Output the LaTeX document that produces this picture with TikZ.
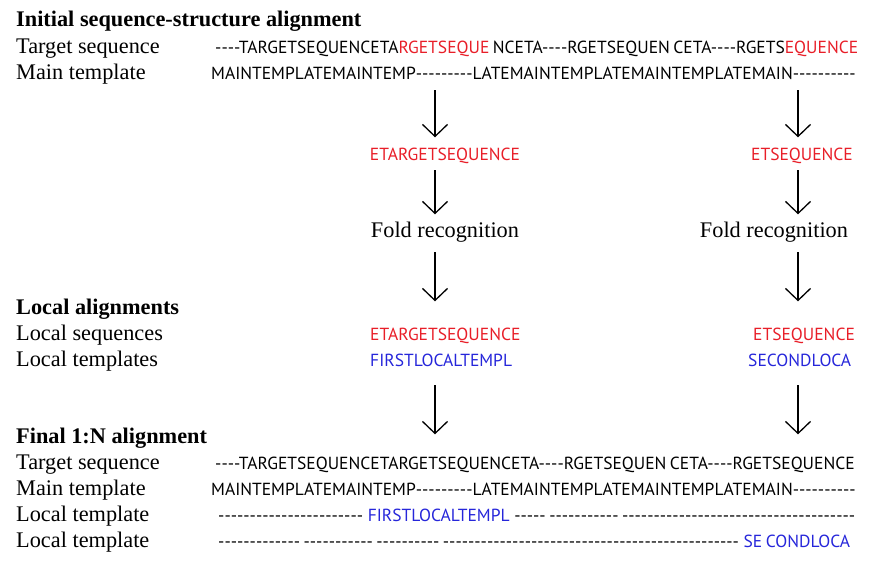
\documentclass[tikz,border=0pt]{standalone}
\usepackage{fontspec}
\setmainfont{Liberation Serif}
\newfontfamily\seqfont{PT Sans}[Ligatures=TeXOff]
\usetikzlibrary{arrows.meta,calc}

\definecolor{seqred}{RGB}{232,30,40}
\definecolor{seqblue}{RGB}{38,38,218}

% a run of gap characters
\newcommand\dashes[1]{\foreach\k in {1,...,#1}{-}}
\newcommand\gapsp{\hspace{0.2em}}

\tikzset{
	lab/.style={anchor=base west, inner sep=0pt, font=\fontsize{22.3}{26}\selectfont},
	head/.style={lab, font=\fontsize{22.3}{26}\selectfont\bfseries},
	seq/.style={anchor=base west, inner sep=0pt, font=\seqfont\fontsize{17.5}{20}\selectfont},
	flow/.style={-{Straight Barb[length=12pt,width=25pt]}, line width=1.3pt}
}

\begin{document}
\begin{tikzpicture}[x=1pt,y=-1pt]
	\useasboundingbox (0,0) rectangle (870,563);
	% initial alignment
	\node[head] (ini) at (16,26) {Initial sequence-structure alignment};
	\node[lab] (iniT) at (16,53) {Target sequence};
	\node[lab] (iniM) at (16,79) {Main template};
	\node[seq] (iniTs) at (215,53) {\dashes{4}TARGETSEQUENCETA{\color{seqred}RGETSEQUE}\gapsp NCETA\dashes{4}RGETSEQUEN\gapsp CETA\dashes{4}RGETS{\color{seqred}EQUENCE}};
	\node[seq] (iniMs) at (211,79) {MAINTEMPLATEMAINTEMP\dashes{9}LATEMAINTEMPLATEMAINTEMPLATEMAIN\dashes{10}};
	% the two columns
	\coordinate (colL) at (435,0);
	\coordinate (colR) at (798,0);
	\node[seq, anchor=base, text=seqred] (cutL) at (445,160) {ETARGETSEQUENCE};
	\node[seq, anchor=base, text=seqred] (cutR) at (802,160) {ETSEQUENCE};
	\node[lab, anchor=base] (foldL) at (445,237) {Fold recognition};
	\node[lab, anchor=base] (foldR) at (774,237) {Fold recognition};
	% local alignments
	\node[head] (loc) at (16,314) {Local alignments};
	\node[lab] (locS) at (16,340) {Local sequences};
	\node[lab] (locT) at (16,366) {Local templates};
	\node[seq, text=seqred] (locSL) at (370,340) {ETARGETSEQUENCE};
	\node[seq, text=seqred] (locSR) at (753,340) {ETSEQUENCE};
	\node[seq, text=seqblue] (locTL) at (370,366) {FIRSTLOCALTEMPL};
	\node[seq, text=seqblue] (locTR) at (748,366) {SECONDLOCA};
	% final alignment
	\node[head] (fin) at (16,443) {Final 1:N alignment};
	\node[lab] (finT) at (16,469) {Target sequence};
	\node[lab] (finM) at (16,495) {Main template};
	\node[lab] (finA) at (16,521) {Local template};
	\node[lab] (finB) at (16,547) {Local template};
	\node[seq] (finTs) at (215,469) {\dashes{4}TARGETSEQUENCETARGETSEQUENCETA\dashes{4}RGETSEQUEN\gapsp CETA\dashes{4}RGETSEQUENCE};
	\node[seq] (finMs) at (211,495) {MAINTEMPLATEMAINTEMP\dashes{9}LATEMAINTEMPLATEMAINTEMPLATEMAIN\dashes{10}};
	\node[seq] (finAs) at (218,521) {\dashes{23} {\color{seqblue}FIRSTLOCALTEMPL} \dashes{5}\gapsp\dashes{11}\gapsp\dashes{37}};
	\node[seq] (finBs) at (218,547) {\dashes{13}\gapsp\dashes{11}\gapsp\dashes{10}\gapsp\dashes{47} {\color{seqblue}SE\gapsp CONDLOCA}};
	% arrows down each column
	\foreach \s in {L,R} {
		\draw[flow] ($(iniMs.south -| col\s)+(0,11)$) -- ($(cut\s.north -| col\s)+(0,-10)$);
		\draw[flow] ($(cut\s.south -| col\s)+(0,7)$) -- ($(fold\s.north -| col\s)+(0,-7)$);
		\draw[flow] ($(fold\s.south -| col\s)+(0,10)$) -- ($(locS\s.north -| col\s)+(0,-26)$);
		\draw[flow] ($(locT\s.south -| col\s)+(0,19)$) -- ($(finTs.north -| col\s)+(0,-22)$);
	}
\end{tikzpicture}
\end{document}
